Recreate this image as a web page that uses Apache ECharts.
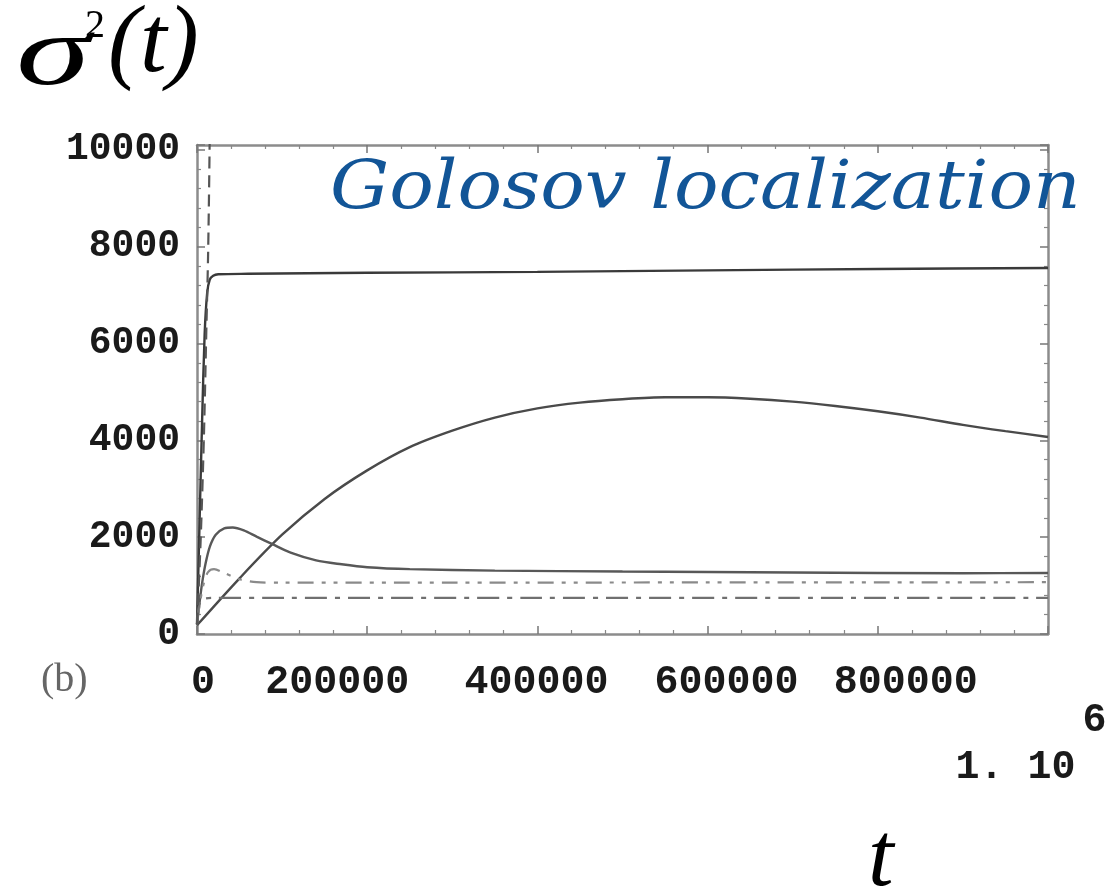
<!DOCTYPE html>
<html>
<head>
<meta charset="utf-8">
<title>σ²(t)</title>
<script src="https://cdn.jsdelivr.net/npm/echarts@6/dist/echarts.min.js"></script>
<style>
  html, body { margin: 0; padding: 0; background: #fff; }
  #chart { width: 1119px; height: 886px; }
</style>
</head>
<body>
<div id="chart"></div>
<script>
// ---- data: time t and variance sigma^2(t) for each run ----
const tPlateau     = [0, 3000, 6000, 9000, 12000, 15000, 19000, 25000, 60000, 200000, 400000, 600000, 800000, 1000000];
const sigmaPlateau = [200, 2300, 4400, 6200, 7050, 7320, 7400, 7430, 7440, 7460, 7480, 7510, 7540, 7560];

const tSlow     = [0, 50000, 100000, 150000, 200000, 250000, 300000, 350000, 400000, 450000, 500000, 550000, 600000, 650000, 700000, 750000, 800000, 850000, 900000, 950000, 1000000];
const sigmaSlow = [180, 1150, 2050, 2790, 3380, 3860, 4200, 4470, 4660, 4780, 4850, 4890, 4890, 4860, 4800, 4710, 4600, 4470, 4320, 4190, 4070];

const tPeak     = [0, 3000, 6000, 10000, 15000, 22000, 32000, 42000, 55000, 70000, 88000, 110000, 140000, 170000, 200000, 250000, 350000, 500000, 700000, 900000, 1000000];
const sigmaPeak = [200, 650, 1050, 1450, 1800, 2050, 2180, 2200, 2140, 2010, 1860, 1680, 1520, 1440, 1380, 1340, 1310, 1290, 1270, 1255, 1260];

const tDashDotUpper     = [0, 4000, 8000, 13000, 20000, 32000, 50000, 70000, 100000, 300000, 600000, 800000, 1000000];
const sigmaDashDotUpper = [250, 700, 1050, 1280, 1340, 1260, 1130, 1070, 1060, 1060, 1065, 1065, 1070];

const tDashDotLower     = [0, 2000, 5000, 10000, 20000, 100000, 400000, 700000, 1000000];
const sigmaDashDotLower = [200, 550, 700, 735, 745, 745, 745, 745, 745];

const tDiverging     = [0, 4000, 8000, 11000, 13000, 14500, 16000];
const sigmaDiverging = [200, 1800, 4000, 6300, 7800, 9600, 12000];

// ---- axis ticks and labels ----
const xTicks      = [0, 200000, 400000, 600000, 800000, 1000000];
const xTickLabels = ['0', '200000', '400000', '600000', '800000', '1. 10'];
const xExponent   = '6';
const yTicks      = [0, 2000, 4000, 6000, 8000, 10000];
const yTickLabels = ['0', '2000', '4000', '6000', '8000', '10000'];

const xMax = 1000000;
const yMax = 10100;

function pairs(ts, vs) { return ts.map((t, i) => [t, vs[i]]); }

const mono = { fontFamily: 'Liberation Mono', fontWeight: 'bold', color: '#1a1a1a' };
const labelStyle = Object.assign({ fontSize: 40, lineHeight: 40 }, mono);

// per-label horizontal nudges of the bottom tick labels
const xLabelRich = {
  k0: Object.assign({}, labelStyle, { padding: [0, 0, 0, 12] }),
  k1: Object.assign({}, labelStyle, { padding: [0, 60, 0, 0] }),
  k2: Object.assign({}, labelStyle, { padding: [0, 2, 0, 0] }),
  k3: Object.assign({}, labelStyle, { padding: [0, 0, 0, 38] }),
  k4: Object.assign({}, labelStyle, { padding: [0, 0, 0, 56] })
};
// the last tick label, written as mantissa with its exponent raised above
const xEndRich = {
  e6: Object.assign({}, labelStyle, { align: 'right', padding: [0, 34, 0, 0], lineHeight: 40 }),
  m6: Object.assign({}, labelStyle, { align: 'left', padding: [0, 65, 0, 0], lineHeight: 54 })
};

const frameLine = { show: true, onZero: false, lineStyle: { color: '#8c8c8c', width: 2.5 } };
const tickIn = { show: true, inside: true, length: 8, lineStyle: { color: '#777', width: 1.5 } };
const minorIn = { show: true, splitNumber: 5, length: 4, lineStyle: { color: '#888', width: 1.2 } };

function lineSeries(name, data, color, width, type) {
  return {
    name, type: 'line', data,
    xAxisIndex: 0, yAxisIndex: 0,
    showSymbol: false, symbol: 'none',
    smooth: 0.3,
    clip: true,
    lineStyle: { color, width, type },
    emphasis: { disabled: true },
    z: 3
  };
}

const chart = echarts.init(document.getElementById('chart'), null, { renderer: 'canvas' });

chart.setOption({
  backgroundColor: '#ffffff',
  animation: false,
  grid: { left: 197, right: 71, top: 145, bottom: 252, containLabel: false, outerBoundsMode: 'none' },
  xAxis: [
    {
      type: 'value', position: 'bottom', min: 0, max: xMax, interval: 200000,
      axisLine: frameLine, axisTick: tickIn, minorTick: minorIn, splitLine: { show: false },
      axisLabel: {
        show: true, interval: 0, margin: 29, hideOverlap: false,
        formatter: function (v) {
          const i = xTicks.indexOf(v);
          if (i < 0 || v === xMax) return '';
          return '{k' + i + '|' + xTickLabels[i] + '}';
        },
        rich: xLabelRich
      }
    },
    {
      type: 'value', position: 'top', min: 0, max: xMax, interval: 200000,
      axisLine: frameLine, axisTick: tickIn, minorTick: minorIn, splitLine: { show: false },
      axisLabel: { show: false }
    },
    {
      // carries only the end label, set lower than the others
      type: 'value', position: 'bottom', offset: 40, min: 0, max: xMax, interval: xMax,
      axisLine: { show: false }, axisTick: { show: false }, splitLine: { show: false },
      axisLabel: {
        show: true, margin: 27, showMaxLabel: true,
        formatter: function (v) {
          if (v !== xMax) return '';
          return '{e6|' + xExponent + '}\n{m6|' + xTickLabels[xTicks.indexOf(v)] + '}';
        },
        rich: xEndRich
      }
    }
  ],
  yAxis: [
    {
      type: 'value', position: 'left', min: 0, max: yMax, interval: 2000,
      axisLine: frameLine, axisTick: tickIn, minorTick: minorIn, splitLine: { show: false },
      axisLabel: {
        show: true, margin: 17, showMaxLabel: false,
        fontSize: 38, fontFamily: mono.fontFamily, fontWeight: 'bold', color: mono.color,
        formatter: function (v) {
          const i = yTicks.indexOf(v);
          return i < 0 ? '' : yTickLabels[i];
        }
      }
    },
    {
      type: 'value', position: 'right', min: 0, max: yMax, interval: 2000,
      axisLine: frameLine, axisTick: tickIn, minorTick: minorIn, splitLine: { show: false },
      axisLabel: { show: false }
    }
  ],
  series: [
    lineSeries('plateau', pairs(tPlateau, sigmaPlateau), '#3a3a3a', 2.4, 'solid'),
    lineSeries('slow rise', pairs(tSlow, sigmaSlow), '#4a4a4a', 2.4, 'solid'),
    lineSeries('early peak', pairs(tPeak, sigmaPeak), '#585858', 2.4, 'solid'),
    lineSeries('dash-dot upper', pairs(tDashDotUpper, sigmaDashDotUpper), '#8a8a8a', 2.2, [16, 8, 4, 8, 4, 8]),
    lineSeries('dash-dot lower', pairs(tDashDotLower, sigmaDashDotLower), '#707070', 2.2, [22, 8, 5, 8]),
    lineSeries('diverging', pairs(tDiverging, sigmaDiverging), '#555555', 2.2, [12, 7])
  ],
  graphic: [
    // y-axis quantity
    { type: 'text', left: 16, top: 8, scaleX: 1.5, z: 10,
      style: { text: 'σ', font: 'italic 100px "Liberation Serif"', fill: '#000' } },
    { type: 'text', left: 85, top: 6, z: 10,
      style: { text: '2', font: '40px "Liberation Serif"', fill: '#000' } },
    { type: 'text', left: 108, top: -2, z: 10,
      style: { text: '(t)', font: 'italic 96px "Liberation Serif"', fill: '#000' } },
    // x-axis quantity
    { type: 'text', left: 868, top: 815, z: 10,
      style: { text: 't', font: 'italic 92px "Liberation Serif"', fill: '#000' } },
    // panel tag
    { type: 'text', left: 41, top: 660, z: 10,
      style: { text: '(b)', font: '40px "Liberation Serif"', fill: '#666' } },
    // annotation
    { type: 'text', left: 330, top: 156, scaleX: 1.09, z: 10,
      style: { text: 'Golosov localization', font: 'italic 68px "DejaVu Serif"', fill: '#125597' } }
  ]
});
</script>
</body>
</html>
